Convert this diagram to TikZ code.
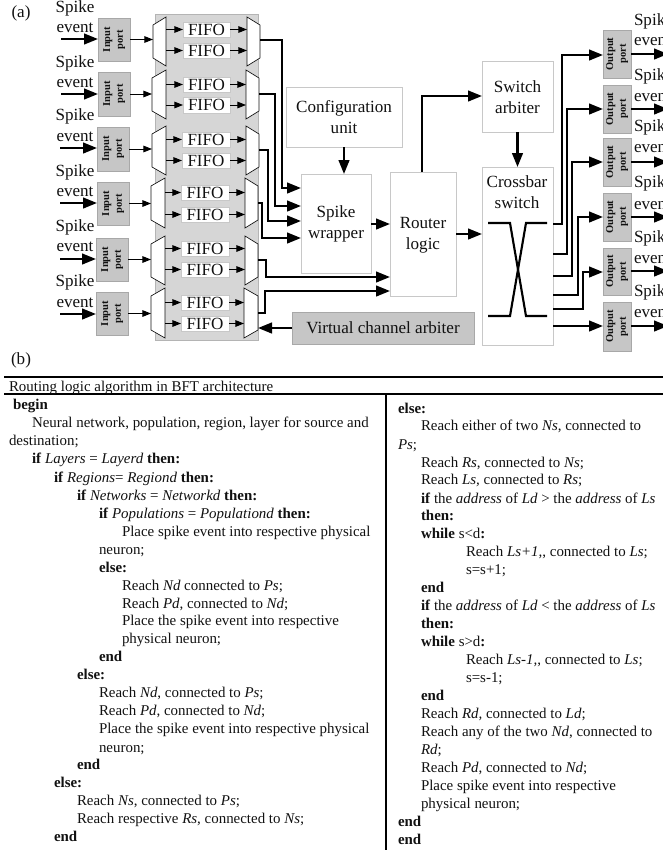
\documentclass[tikz,border=0pt]{standalone}
\usepackage{fontspec}
\usepackage{graphicx}
\setmainfont{Liberation Serif}
\usetikzlibrary{arrows.meta}
\definecolor{boxline}{HTML}{C8C8C8}
\definecolor{bigfill}{HTML}{D6D6D6}
\definecolor{bigline}{HTML}{B4B4B4}
\definecolor{portfill}{HTML}{C6C6C6}
\definecolor{portline}{HTML}{A8A8A8}
\definecolor{inkc}{HTML}{111111}
\newcount\alglineno
\newcommand{\rectnode}[6]{% style, name, x1,y1,x2,y2 -> then text
  \node[#1,minimum width={(#5-#3)*0.75pt},minimum height={(#6-#4)*0.75pt}] (#2) at ({(#3+#5)/2},{(#4+#6)/2})}
\newcommand{\muxleft}[5]{% name x1 y1 x2 y2 : wide side on the right
  \draw[muxline] (#4,#3) -- (#2,#3+8) -- (#2,#5-8) -- (#4,#5) -- cycle;
  \node[hidden,minimum width={(#4-#2)*0.75pt},minimum height={(#5-#3)*0.75pt}] (#1) at ({(#2+#4)/2},{(#3+#5)/2}) {};}
\newcommand{\muxright}[5]{% name x1 y1 x2 y2 : wide side on the left
  \draw[muxline] (#2,#3) -- (#4,#3+8) -- (#4,#5-8) -- (#2,#5) -- cycle;
  \node[hidden,minimum width={(#4-#2)*0.75pt},minimum height={(#5-#3)*0.75pt}] (#1) at ({(#2+#4)/2},{(#3+#5)/2}) {};}
\newcommand{\portlab}[2]{\rotatebox{90}{\fontsize{7.9}{9.6}\selectfont\bfseries\begin{tabular}{@{}c@{}}#1\\#2\end{tabular}}}
\newcommand{\algl}[3]{\global\advance\alglineno by 1
  \node[alg] (line\the\alglineno) at (#1,#2+5) {#3};}
\newcommand{\bb}[1]{\textbf{#1}}
\newcommand{\ii}[1]{\textit{#1}}
\tikzset{
  x=0.75pt,y=-0.75pt,
  hidden/.style={inner sep=0,outer sep=0,draw=none},
  muxline/.style={draw=inkc,fill=white,line width=0.5pt},
  whitebox/.style={draw=boxline,fill=white,line width=0.75pt,inner sep=0,outer sep=0,align=center,text=inkc,font=\fontsize{12.8}{15.6}\selectfont},
  graybox/.style={draw=portline,fill=portfill,line width=0.6pt,inner sep=0,outer sep=0,align=center,text=inkc,font=\fontsize{12.8}{15.6}\selectfont},
  biggray/.style={draw=bigline,fill=bigfill,line width=0.75pt,inner sep=0,outer sep=0},
  fifobox/.style={draw=boxline,fill=white,line width=0.6pt,inner sep=0,outer sep=0,text=inkc,font=\fontsize{12.8}{15}\selectfont},
  portbox/.style={draw=portline,fill=portfill,line width=0.6pt,inner sep=0,outer sep=0,text=inkc},
  conn/.style={draw=black,line width=1.7pt,-{Triangle[length=10.5pt,width=8pt]},line join=miter},
  connplain/.style={draw=black,line width=1.6pt,line join=miter},
  small/.style={draw=black,line width=0.7pt,-{Triangle[length=6.5pt,width=5pt]}},
  lab/.style={inner sep=0,outer sep=0,text=inkc,font=\fontsize{12.8}{15}\selectfont},
  boxlab/.style={inner sep=0,outer sep=0,align=center,text=inkc,font=\fontsize{12.8}{15.6}\selectfont},
  alg/.style={anchor=base west,inner sep=0,outer sep=0,text=inkc,font=\fontsize{11.2}{13.5}\selectfont},
  rule/.style={draw=black,line width=1.5pt}
}
\begin{document}
\begin{tikzpicture}
\useasboundingbox (0,0) rectangle (663,850);
\clip (0,0) rectangle (663,850);
\fill[white] (0,0) rectangle (663,850);

\node[lab] (parta) at (21,13) {(a)};
\node[lab] (partb) at (21,360) {(b)};

% big gray panel
\rectnode{biggray}{panel}{155}{14}{258}{340} {};

% input ports
\rectnode{portbox}{in1}{98}{18}{130}{61} {\portlab{Input}{port}};
\rectnode{portbox}{in2}{98}{72}{130}{116} {\portlab{Input}{port}};
\rectnode{portbox}{in3}{97}{127}{129}{171} {\portlab{Input}{port}};
\rectnode{portbox}{in4}{97}{182}{129}{225} {\portlab{Input}{port}};
\rectnode{portbox}{in5}{96}{238}{128}{281} {\portlab{Input}{port}};
\rectnode{portbox}{in6}{96}{292}{128}{335} {\portlab{Input}{port}};

% spike labels on the left
\node[lab] (ls1) at (75,8) {Spike};  \node[lab] (le1) at (75,28) {event};
\node[lab] (ls2) at (75,63) {Spike}; \node[lab] (le2) at (75,83) {event};
\node[lab] (ls3) at (75,116) {Spike};\node[lab] (le3) at (75,137) {event};
\node[lab] (ls4) at (75,172) {Spike};\node[lab] (le4) at (75,192) {event};
\node[lab] (ls5) at (75,227) {Spike};\node[lab] (le5) at (75,247) {event};
\node[lab] (ls6) at (75,282) {Spike};\node[lab] (le6) at (75,303) {event};

% free ends of the input arrows
\coordinate (s1) at (61,39);
\coordinate (s2) at (61,94);
\coordinate (s3) at (60,148);
\coordinate (s4) at (60,203);
\coordinate (s5) at (60,259);
\coordinate (s6) at (60,314);
\foreach \i in {1,...,6}{\draw[conn] (s\i) -- (s\i -| in\i.west);}

% multiplexers
\muxleft{lm1}{153}{17}{166}{66}
\muxleft{lm2}{152}{70}{166}{119}
\muxleft{lm3}{152}{126}{166}{175}
\muxleft{lm4}{151}{178}{165}{228}
\muxleft{lm5}{151}{236}{165}{285}
\muxleft{lm6}{151}{288}{165}{338}
\muxright{rm1}{247}{17}{260}{66}
\muxright{rm2}{246}{70}{259}{119}
\muxright{rm3}{246}{126}{259}{175}
\muxright{rm4}{245}{178}{258}{228}
\muxright{rm5}{245}{236}{258}{285}
\muxright{rm6}{244}{288}{258}{338}

% FIFOs
\rectnode{fifobox}{fa1}{183}{22}{230}{37} {FIFO};
\rectnode{fifobox}{fb1}{183}{43}{230}{58} {FIFO};
\rectnode{fifobox}{fa2}{183}{77}{230}{92} {FIFO};
\rectnode{fifobox}{fb2}{183}{97}{230}{113} {FIFO};
\rectnode{fifobox}{fa3}{182}{132}{230}{147} {FIFO};
\rectnode{fifobox}{fb3}{182}{153}{230}{168} {FIFO};
\rectnode{fifobox}{fa4}{181}{185}{229}{200} {FIFO};
\rectnode{fifobox}{fb4}{181}{207}{229}{222} {FIFO};
\rectnode{fifobox}{fa5}{181}{241}{229}{256} {FIFO};
\rectnode{fifobox}{fb5}{181}{262}{229}{277} {FIFO};
\rectnode{fifobox}{fa6}{181}{295}{229}{310} {FIFO};
\rectnode{fifobox}{fb6}{181}{316}{229}{331} {FIFO};

\foreach \i in {1,...,6}{
  \draw[small] (in\i.east) -- (in\i.east -| lm\i.west);
  \draw[small] (fa\i -| lm\i.east) -- (fa\i.west);
  \draw[small] (fb\i -| lm\i.east) -- (fb\i.west);
  \draw[small] (fa\i.east) -- (fa\i -| rm\i.west);
  \draw[small] (fb\i.east) -- (fb\i -| rm\i.west);
}

% main blocks
\rectnode{whitebox}{cfg}{286}{87}{402}{147} {Configuration\\unit};
\rectnode{whitebox}{wrap}{301}{174}{371}{273} {};
\node[boxlab] (wrapt) at (336,224) {Spike\\wrapper};
\rectnode{whitebox}{rout}{390}{172}{456}{296} {};
\node[boxlab] (routt) at (423,235.5) {Router\\logic};
\rectnode{whitebox}{sarb}{482}{61}{553}{132} {};
\node[boxlab] (sarbt) at (517.5,97.5) {Switch\\arbiter};
\rectnode{whitebox}{xbar}{482}{167}{553}{345} {};
\node[boxlab] (xbart) at (517,192.5) {Crossbar\\switch};
\rectnode{graybox}{vca}{292}{312}{474}{344} {Virtual channel arbiter};

% cross inside the crossbar switch
\draw[connplain] (488,223) -- (510,223) -- (526,316) -- (547,316);
\draw[connplain] (547,223) -- (526,223) -- (510,316) -- (488,316);

% connectors to spike wrapper and router
\draw[conn] (rm1.east |- 0,40) -- (282,40) -- (282,188) -- (wrap.west |- 0,188);
\draw[conn] (rm2.east |- 0,94) -- (275,94) -- (275,206) -- (wrap.west |- 0,206);
\draw[conn] (rm3.east |- 0,150) -- (268,150) -- (268,221) -- (wrap.west |- 0,221);
\draw[conn] (rm4.east |- 0,203) -- (262,203) -- (262,238) -- (wrap.west |- 0,238);
\draw[conn] (rm5.east |- 0,260) -- (266,260) -- (266,277) -- (rout.west |- 0,277);
\draw[conn] (rm6.east |- 0,313) -- (265,313) -- (265,291) -- (rout.west |- 0,291);
\draw[conn] (vca.west |- 0,328) -- (rm6.east |- 0,328);
\draw[conn] (cfg.south) -- (wrap.north -| cfg.south);
\draw[conn] (wrap.east |- 0,224) -- (rout.west |- 0,224);
\draw[conn] (rout.north -| 422,0) -- (422,96) -- (sarb.west |- 0,96);
\draw[conn] (sarb.south) -- (xbar.north);
\draw[conn] (rout.east |- 0,234) -- (xbar.west |- 0,234);

% output ports
\rectnode{portbox}{out1}{603}{30}{631}{78} {\portlab{Output}{port}};
\rectnode{portbox}{out2}{603}{85}{631}{133} {\portlab{Output}{port}};
\rectnode{portbox}{out3}{603}{138}{631}{186} {\portlab{Output}{port}};
\rectnode{portbox}{out4}{603}{193}{631}{241} {\portlab{Output}{port}};
\rectnode{portbox}{out5}{603}{248}{631}{295} {\portlab{Output}{port}};
\rectnode{portbox}{out6}{603}{302}{631}{351} {\portlab{Output}{port}};

\draw[conn] (xbar.east |- 0,224) -- (562,224) -- (562,55) -- (out1.west |- 0,55);
\draw[conn] (xbar.east |- 0,254) -- (567,254) -- (567,109) -- (out2.west |- 0,109);
\draw[conn] (xbar.east |- 0,276) -- (572,276) -- (572,162) -- (out3.west |- 0,162);
\draw[conn] (xbar.east |- 0,295) -- (578,295) -- (578,217) -- (out4.west |- 0,217);
\draw[conn] (xbar.east |- 0,309) -- (583,309) -- (583,272) -- (out5.west |- 0,272);
\draw[conn] (xbar.east |- 0,326) -- (out6.west |- 0,326);

\coordinate (e1) at (668,54);
\coordinate (e2) at (668,109);
\coordinate (e3) at (668,162);
\coordinate (e4) at (668,217);
\coordinate (e5) at (668,271);
\coordinate (e6) at (668,326);
\foreach \i in {1,...,6}{\draw[conn] (e\i -| out\i.east) -- (e\i);}

\tikzset{rlab/.style={lab,anchor=west}}
\node[rlab] (rs1) at (634,21) {Spike};  \node[rlab] (re1) at (634,41) {event};
\node[rlab] (rs2) at (634,76) {Spike};  \node[rlab] (re2) at (634,97) {event};
\node[rlab] (rs3) at (634,127) {Spike}; \node[rlab] (re3) at (634,148) {event};
\node[rlab] (rs4) at (634,183) {Spike}; \node[rlab] (re4) at (634,205) {event};
\node[rlab] (rs5) at (634,238) {Spike}; \node[rlab] (re5) at (634,259) {event};
\node[rlab] (rs6) at (634,292) {Spike}; \node[rlab] (re6) at (634,313) {event};

% table rules
\coordinate (r1a) at (4,377);  \coordinate (r1b) at (663,377);
\coordinate (r2a) at (4,394);  \coordinate (r2b) at (663,394);
\coordinate (r3a) at (386,394);\coordinate (r3b) at (386,850);
\draw[rule] (r1a) -- (r1b);
\draw[rule] (r2a) -- (r2b);
\draw[rule] (r3a) -- (r3b);

% left column
\algl{9}{386}{Routing logic algorithm in BFT architecture}
\algl{13}{404}{\bb{begin}}
\algl{32}{422}{Neural network, population, region, layer for source and}
\algl{9}{440}{destination;}
\algl{32}{458}{\bb{if} \ii{Layers} = \ii{Layerd} \bb{then:}}
\algl{54}{477}{\bb{if} \ii{Regions}= \ii{Regiond} \bb{then:}}
\algl{77}{495}{\bb{if} \ii{Networks} = \ii{Networkd} \bb{then:}}
\algl{99}{513}{\bb{if} \ii{Populations} = \ii{Populationd} \bb{then:}}
\algl{122}{531}{Place spike event into respective physical}
\algl{99}{549}{neuron;}
\algl{99}{567}{\bb{else:}}
\algl{122}{585}{Reach \ii{Nd} connected to \ii{Ps};}
\algl{122}{603}{Reach \ii{Pd}, connected to \ii{Nd};}
\algl{122}{620}{Place the spike event into respective}
\algl{122}{638}{physical neuron;}
\algl{99}{656}{\bb{end}}
\algl{77}{674}{\bb{else:}}
\algl{99}{692}{Reach \ii{Nd}, connected to \ii{Ps};}
\algl{99}{710}{Reach \ii{Pd}, connected to \ii{Nd};}
\algl{99}{728}{Place the spike event into respective physical}
\algl{99}{747}{neuron;}
\algl{77}{764}{\bb{end}}
\algl{54}{782}{\bb{else:}}
\algl{77}{800}{Reach \ii{Ns}, connected to \ii{Ps};}
\algl{77}{818}{Reach respective \ii{Rs}, connected to \ii{Ns};}
\algl{54}{836}{\bb{end}}

% right column
\algl{398}{408}{\bb{else:}}
\algl{421}{425}{Reach either of two \ii{Ns}, connected to}
\algl{398}{444}{\ii{Ps};}
\algl{421}{462}{Reach \ii{Rs}, connected to \ii{Ns};}
\algl{421}{479}{Reach \ii{Ls,} connected to \ii{Rs};}
\algl{421}{498}{\bb{if} the \ii{address} of \ii{Ld} > the \ii{address} of \ii{Ls}}
\algl{421}{515}{\bb{then:}}
\algl{421}{533}{\bb{while} s<d\bb{:}}
\algl{466}{551}{Reach \ii{Ls+1,}, connected to \ii{Ls};}
\algl{466}{569}{s=s+1;}
\algl{421}{587}{\bb{end}}
\algl{421}{605}{\bb{if} the \ii{address} of \ii{Ld} < the \ii{address} of \ii{Ls}}
\algl{421}{623}{\bb{then:}}
\algl{421}{641}{\bb{while} s>d\bb{:}}
\algl{466}{659}{Reach \ii{Ls-1,}, connected to \ii{Ls};}
\algl{466}{677}{s=s-1;}
\algl{421}{695}{\bb{end}}
\algl{421}{713}{Reach \ii{Rd,} connected to \ii{Ld};}
\algl{421}{731}{Reach any of the two \ii{Nd}, connected to}
\algl{421}{749}{\ii{Rd};}
\algl{421}{767}{Reach \ii{Pd}, connected to \ii{Nd};}
\algl{421}{785}{Place spike event into respective}
\algl{421}{803}{physical neuron;}
\algl{398}{821}{\bb{end}}
\algl{398}{839}{\bb{end}}
\end{tikzpicture}
\end{document}
